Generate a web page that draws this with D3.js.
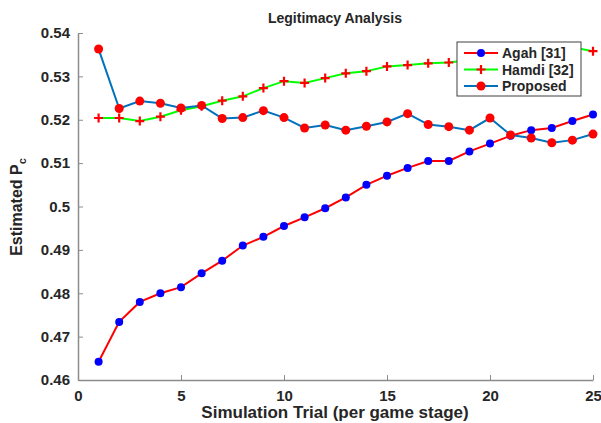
<!DOCTYPE html>
<html>
<head>
<meta charset="utf-8">
<script src="https://cdn.jsdelivr.net/npm/d3@7"></script>
<style>
  body { margin: 0; background: #fff; }
  text { font-family: "Liberation Sans", Arial, sans-serif; font-weight: bold; fill: #262626; }
</style>
</head>
<body>
<svg id="chart" width="601" height="423"></svg>
<script>
// trials 1..25
var trials = d3.range(1, 26);
var agah = [0.4642, 0.4734, 0.4780, 0.4800, 0.4814, 0.4846, 0.4875, 0.4910, 0.4930, 0.4955,
            0.4975, 0.4996, 0.5021, 0.5050, 0.5071, 0.5089, 0.5105, 0.5105, 0.5127, 0.5145,
            0.5163, 0.5176, 0.5181, 0.5197, 0.5212];
var hamdi = [0.5204, 0.5204, 0.5197, 0.5207, 0.5222, 0.5231, 0.5244, 0.5254, 0.5273, 0.5289,
             0.5285, 0.5296, 0.5307, 0.5312, 0.5323, 0.5326, 0.5330, 0.5332, 0.5338, 0.5345,
             0.5352, 0.5358, 0.5362, 0.5367, 0.5358];
var proposed = [0.5363, 0.5226, 0.5243, 0.5238, 0.5227, 0.5233, 0.5203, 0.5205, 0.5221, 0.5205,
                0.5181, 0.5188, 0.5176, 0.5185, 0.5195, 0.5214, 0.5189, 0.5184, 0.5176, 0.5204,
                0.5165, 0.5158, 0.5147, 0.5153, 0.5167];
var xTicks = [0, 5, 10, 15, 20, 25];
var yTicks = [0.46, 0.47, 0.48, 0.49, 0.5, 0.51, 0.52, 0.53, 0.54];
var names = ["Agah [31]", "Hamdi [32]", "Proposed"];

var svg = d3.select("#chart");
var x = d3.scaleLinear().domain([0, 25]).range([78, 593]);
var y = d3.scaleLinear().domain([0.46, 0.54]).range([380, 33]);

// axes (ticks point inward like matlab)
var xAxis = svg.append("g").attr("transform", "translate(0,380)")
  .call(d3.axisBottom(x).tickValues(xTicks).tickSizeInner(-5).tickSizeOuter(0).tickPadding(10).tickFormat(d3.format("d")));
var yAxis = svg.append("g").attr("transform", "translate(78,0)")
  .call(d3.axisLeft(y).tickValues(yTicks).tickSizeInner(-5).tickSizeOuter(0).tickPadding(8).tickFormat(function(d){ return d3.format("")(+d.toFixed(2)); }));
[xAxis, yAxis].forEach(function(a){
  a.select(".domain").attr("stroke", "#8c8c8c").attr("stroke-width", 1.5);
  a.selectAll(".tick line").attr("stroke", "#8c8c8c");
  a.selectAll("text").style("font-size", "15px").attr("fill", "#262626");
});

var line = d3.line().x(function(d, i){ return x(trials[i]); }).y(function(d){ return y(d); });

function crossPath(cx, cy, s) {
  return "M" + (cx - s) + "," + cy + "H" + (cx + s) + "M" + cx + "," + (cy - s) + "V" + (cy + s);
}

// Agah
svg.append("path").datum(agah).attr("d", line).attr("fill", "none").attr("stroke", "#ff0000").attr("stroke-width", 2);
svg.selectAll(".agah").data(agah).enter().append("circle")
  .attr("cx", function(d, i){ return x(trials[i]); }).attr("cy", function(d){ return y(d); })
  .attr("r", 4).attr("fill", "#0000ff");

// Hamdi
svg.append("path").datum(hamdi).attr("d", line).attr("fill", "none").attr("stroke", "#00ff00").attr("stroke-width", 2);
svg.selectAll(".hamdi").data(hamdi).enter().append("path")
  .attr("d", function(d, i){ return crossPath(x(trials[i]), y(d), 4.5); })
  .attr("stroke", "#ff0000").attr("stroke-width", 2.2).attr("fill", "none");

// Proposed
svg.append("path").datum(proposed).attr("d", line).attr("fill", "none").attr("stroke", "#0072bd").attr("stroke-width", 2);
svg.selectAll(".prop").data(proposed).enter().append("circle")
  .attr("cx", function(d, i){ return x(trials[i]); }).attr("cy", function(d){ return y(d); })
  .attr("r", 4.5).attr("fill", "#ff0000");

// title / labels
svg.append("text").attr("x", 335).attr("y", 23).attr("text-anchor", "middle").style("font-size", "14px").text("Legitimacy Analysis");
svg.append("text").attr("x", 335).attr("y", 418).attr("text-anchor", "middle").style("font-size", "17px").text("Simulation Trial (per game stage)");
var yl = svg.append("text").attr("transform", "translate(22,207) rotate(-90)").attr("text-anchor", "middle").style("font-size", "16px");
yl.append("tspan").text("Estimated P");
yl.append("tspan").attr("dy", 4).style("font-size", "11px").text("c");

// legend
var lg = svg.append("g").attr("transform", "translate(457,42)");
lg.append("rect").attr("width", 124).attr("height", 54).attr("fill", "#fff").attr("stroke", "#404040").attr("stroke-width", 1);
var colors = ["#ff0000", "#00ff00", "#0072bd"];
names.forEach(function(n, i){
  var ly = 11 + i * 16.5;
  lg.append("line").attr("x1", 7).attr("x2", 41).attr("y1", ly).attr("y2", ly).attr("stroke", colors[i]).attr("stroke-width", 2);
  if (i === 0) lg.append("circle").attr("cx", 24).attr("cy", ly).attr("r", 4).attr("fill", "#0000ff");
  if (i === 1) lg.append("path").attr("d", crossPath(24, ly, 4.5)).attr("stroke", "#ff0000").attr("stroke-width", 2.2);
  if (i === 2) lg.append("circle").attr("cx", 24).attr("cy", ly).attr("r", 4.5).attr("fill", "#ff0000");
  lg.append("text").attr("x", 45).attr("y", ly + 5).style("font-size", "14px").text(n);
});
</script>
</body>
</html>
